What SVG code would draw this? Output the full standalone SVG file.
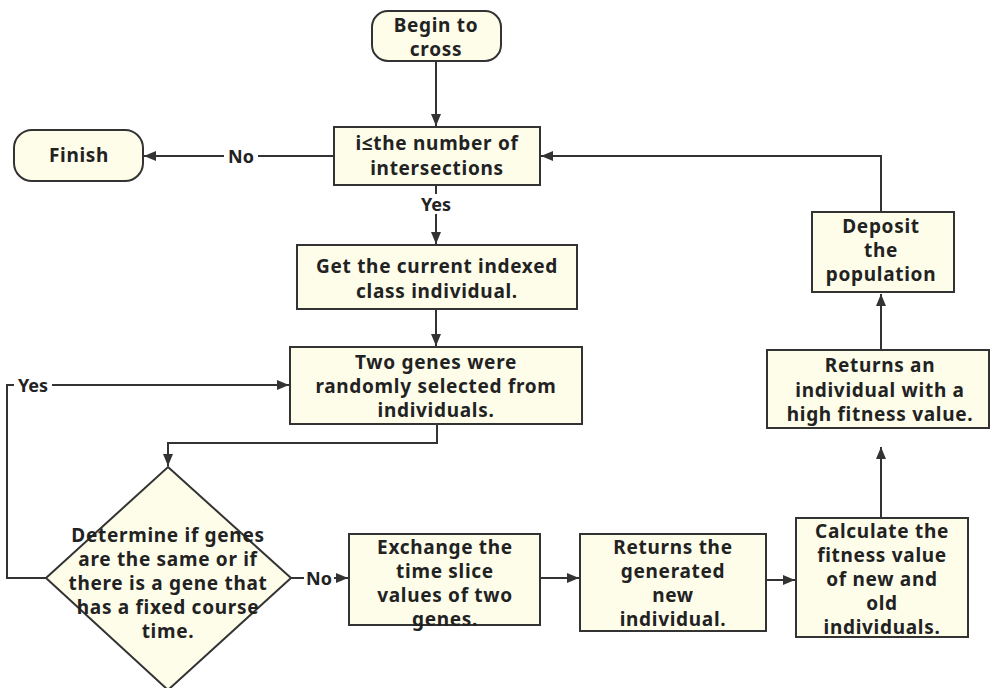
<svg xmlns="http://www.w3.org/2000/svg" width="990" height="688" viewBox="0 0 990 688">
<defs>
<marker id="ah" viewBox="0 0 12 10" refX="12" refY="5" markerWidth="12" markerHeight="10" markerUnits="userSpaceOnUse" orient="auto">
<path d="M0,0 L12,5 L0,10 z" fill="#333"/>
</marker>
<style>
.n{fill:#fdfdea;stroke:#333;stroke-width:2}
.t{font-family:"Noto Sans","Open Sans",sans-serif;font-weight:bold;font-size:19px;letter-spacing:0.7px;fill:#222;text-anchor:middle}
.c{fill:none;stroke:#333;stroke-width:2}
.a{marker-end:url(#ah)}
.lb{font-family:"Noto Sans","Open Sans",sans-serif;font-weight:bold;font-size:18px;fill:#222;text-anchor:middle}
</style>
</defs>
<rect width="990" height="688" fill="#fff"/>
<g id="connectors">
<path class="c a" d="M436,61 V126"/>
<path class="c a" d="M334,156 H144"/>
<path class="c a" d="M436,185 V244"/>
<path class="c a" d="M436,309 V346"/>
<path class="c a" d="M437,424 V443 H168 V466"/>
<path class="c a" d="M46,578 H7 V385 H289"/>
<path class="c a" d="M291,578 H348"/>
<path class="c a" d="M540,578 H579"/>
<path class="c a" d="M766,580 H795"/>
<path class="c a" d="M881,518 V447"/>
<path class="c a" d="M881,350 V294"/>
<path class="c a" d="M881,212 V156 H541"/>
<rect x="224" y="146" width="34" height="20" fill="#fff"/>
<text class="lb" x="241" y="163">No</text>
<rect x="417" y="194" width="38" height="20" fill="#fff"/>
<text class="lb" x="436" y="211">Yes</text>
<rect x="14" y="375" width="38" height="20" fill="#fff"/>
<text class="lb" x="33" y="392">Yes</text>
<rect x="304" y="568" width="30" height="20" fill="#fff"/>
<text class="lb" x="319" y="585">No</text>
</g>
<g id="begin">
<rect class="n" x="372" y="11" width="129" height="50" rx="16"/>
<text class="t" x="436" y="32">Begin to</text>
<text class="t" x="436" y="56">cross</text>
</g>
<g id="check">
<rect class="n" x="334" y="127" width="206" height="58"/>
<text class="t" x="437" y="150">i≤the number of</text>
<text class="t" x="437" y="175">intersections</text>
</g>
<g id="finish">
<rect class="n" x="14" y="130" width="129" height="51" rx="18"/>
<text class="t" x="79" y="162">Finish</text>
</g>
<g id="get">
<rect class="n" x="297" y="245" width="280" height="64"/>
<text class="t" x="437" y="273">Get the current indexed</text>
<text class="t" x="437" y="298">class individual.</text>
</g>
<g id="two">
<rect class="n" x="290" y="347" width="292" height="77"/>
<text class="t" x="436" y="369">Two genes were</text>
<text class="t" x="436" y="393">randomly selected from</text>
<text class="t" x="436" y="417">individuals.</text>
</g>
<g id="determine">
<polygon class="n" points="168,467 291,578 168,690 46,578"/>
<text class="t" x="168" y="542">Determine if genes</text>
<text class="t" x="168" y="566">are the same or if</text>
<text class="t" x="168" y="590">there is a gene that</text>
<text class="t" x="168" y="614">has a fixed course</text>
<text class="t" x="168" y="638">time.</text>
</g>
<g id="exchange">
<rect class="n" x="349" y="534" width="191" height="91"/>
<text class="t" x="445" y="554">Exchange the</text>
<text class="t" x="445" y="578">time slice</text>
<text class="t" x="445" y="602">values of two</text>
<text class="t" x="445" y="626">genes.</text>
</g>
<g id="returns-new">
<rect class="n" x="580" y="534" width="186" height="97"/>
<text class="t" x="673" y="554">Returns the</text>
<text class="t" x="673" y="578">generated</text>
<text class="t" x="673" y="602">new</text>
<text class="t" x="673" y="626">individual.</text>
</g>
<g id="calculate">
<rect class="n" x="796" y="518" width="172" height="119"/>
<text class="t" x="882" y="538">Calculate the</text>
<text class="t" x="882" y="562">fitness value</text>
<text class="t" x="882" y="586">of new and</text>
<text class="t" x="882" y="610">old</text>
<text class="t" x="882" y="634">individuals.</text>
</g>
<g id="returns-high">
<rect class="n" x="767" y="350" width="222" height="78"/>
<text class="t" x="880" y="372">Returns an</text>
<text class="t" x="880" y="397">individual with a</text>
<text class="t" x="880" y="421">high fitness value.</text>
</g>
<g id="deposit">
<rect class="n" x="812" y="212" width="142" height="80"/>
<text class="t" x="881" y="233">Deposit</text>
<text class="t" x="881" y="257">the</text>
<text class="t" x="881" y="281">population</text>
</g>
</svg>
